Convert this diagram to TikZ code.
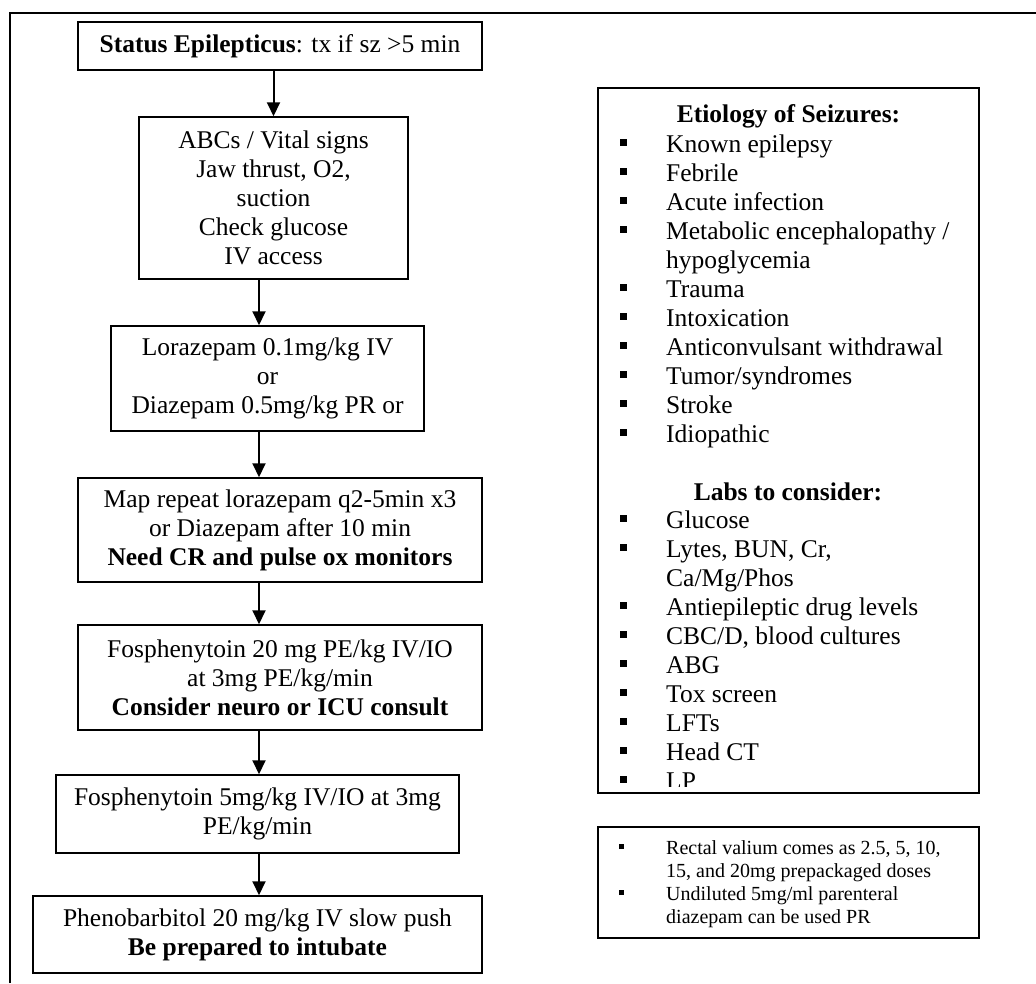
\documentclass[tikz,border=0pt]{standalone}
\usepackage{fontspec}
\setmainfont{Liberation Serif}
\usetikzlibrary{arrows.meta}
\newcommand{\sqbul}{\makebox[46pt][l]{\rule[6pt]{7pt}{7pt}}}
\newcommand{\smbul}{\makebox[47pt][l]{\rule[5pt]{5pt}{5pt}}}
\tikzset{
  stepbox/.style={draw, line width=1.5pt, inner sep=0pt, align=center,
    font=\fontsize{25.5}{29}\selectfont},
  infobox/.style={draw, line width=1.5pt, inner sep=0pt},
  listtext/.style={inner sep=0pt, align=left, anchor=base west,
    font=\fontsize{25.5}{29}\selectfont},
  flow/.style={line width=2pt, -{Triangle[width=13pt,length=14pt]}}
}

\begin{document}
\begin{tikzpicture}[x=1pt,y=-1pt]
  \useasboundingbox (0,0) rectangle (1036,983);
  % outer frame
  \draw[line width=1.5pt] (10,983) -- (10,13) -- (1036,13);

  % flow chart
  \node[stepbox, minimum width=404pt, minimum height=48pt] (status) at (280,46) {\textbf{Status Epilepticus}: tx if sz >5 min};
  \node[stepbox, minimum width=269pt, minimum height=162pt] (abc) at (273.5,198) {ABCs / Vital signs\\Jaw thrust, O2,\\suction\\Check glucose\\IV access};
  \node[stepbox, minimum width=313pt, minimum height=105pt] (benzo) at (267.5,378.5) {Lorazepam 0.1mg/kg IV\\or\\Diazepam 0.5mg/kg PR or};
  \node[stepbox, minimum width=404pt, minimum height=104pt] (repeat) at (280,530) {Map repeat lorazepam q2-5min x3\\or Diazepam after 10 min\\\textbf{Need CR and pulse ox monitors}};
  \node[stepbox, minimum width=404pt, minimum height=105pt] (fos) at (280,677.5) {Fosphenytoin 20 mg PE/kg IV/IO\\at 3mg PE/kg/min\\\textbf{Consider neuro or ICU consult}};
  \node[stepbox, minimum width=403pt, minimum height=78pt] (fosrep) at (257.5,814) {Fosphenytoin 5mg/kg IV/IO at 3mg\\PE/kg/min};
  \node[stepbox, minimum width=449pt, minimum height=77pt] (pheno) at (257.5,934.5) {Phenobarbitol 20 mg/kg IV slow push\\\textbf{Be prepared to intubate}};

  \coordinate (axis) at (259,0);
  \draw[flow] (status.south -| abc.north) -- (abc.north);
  \draw[flow] (abc.south -| axis) -- (benzo.north -| axis);
  \draw[flow] (benzo.south -| axis) -- (repeat.north -| axis);
  \draw[flow] (repeat.south -| axis) -- (fos.north -| axis);
  \draw[flow] (fos.south -| axis) -- (fosrep.north -| axis);
  \draw[flow] (fosrep.south -| axis) -- (pheno.north -| axis);

  % etiology and labs (lists placed by their last baseline)
  \node[infobox, minimum width=381pt, minimum height=705pt] (etio) at (788.5,440.5) {};
  \node[listtext, anchor=base, font=\fontsize{25.5}{29}\selectfont\bfseries] (etiohead) at (788.5,122) {Etiology of Seizures:};
  \node[listtext] (etiolist) at (620,442) {\sqbul Known epilepsy\\\sqbul Febrile\\\sqbul Acute infection\\\sqbul Metabolic encephalopathy /\\\hspace*{46pt}hypoglycemia\\\sqbul Trauma\\\sqbul Intoxication\\\sqbul Anticonvulsant withdrawal\\\sqbul Tumor/syndromes\\\sqbul Stroke\\\sqbul Idiopathic};
  \node[listtext, anchor=base, font=\fontsize{25.5}{29}\selectfont\bfseries] (labshead) at (788,500) {Labs to consider:};
  \begin{scope}
    \clip (598,88) rectangle (979,786);
    \node[listtext] (labslist) at (620,789) {\sqbul Glucose\\\sqbul Lytes, BUN, Cr,\\\hspace*{46pt}Ca/Mg/Phos\\\sqbul Antiepileptic drug levels\\\sqbul CBC/D, blood cultures\\\sqbul ABG\\\sqbul Tox screen\\\sqbul LFTs\\\sqbul Head CT\\\sqbul LP};
  \end{scope}

  % notes
  \node[infobox, minimum width=381pt, minimum height=111pt] (notes) at (788.5,882.5) {};
  \node[listtext, font=\fontsize{20}{23}\selectfont] (noteslist) at (619,923) {\smbul Rectal valium comes as 2.5, 5, 10,\\\hspace*{47pt}15, and 20mg prepackaged doses\\\smbul Undiluted 5mg/ml parenteral\\\hspace*{47pt}diazepam can be used PR};
\end{tikzpicture}
\end{document}
